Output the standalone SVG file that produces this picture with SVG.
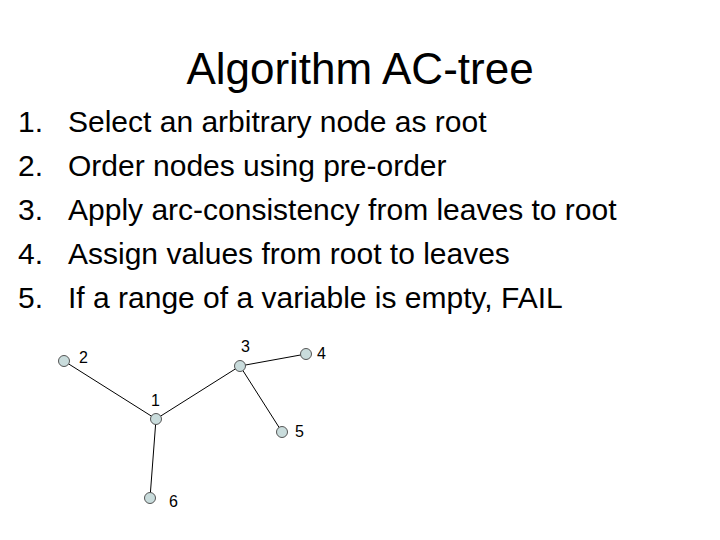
<svg xmlns="http://www.w3.org/2000/svg" width="720" height="540" viewBox="0 0 720 540">
<style>
text{font-family:"Liberation Sans",Arial,sans-serif;fill:#000}
.t{font-size:44px}
.l{font-size:30px}
.n{font-size:16px}
circle{fill:#c9dcdc;stroke:#555;stroke-width:1}
line{stroke:#000;stroke-width:1}
</style>
<rect width="720" height="540" fill="#fff"/>
<text class="t" x="360" y="84" text-anchor="middle">Algorithm AC-tree</text>
<g class="l">
<text class="l" x="18" y="132">1.</text><text class="l" x="68" y="132">Select an arbitrary node as root</text>
<text class="l" x="18" y="176">2.</text><text class="l" x="68" y="176">Order nodes using pre-order</text>
<text class="l" x="18" y="220">3.</text><text class="l" x="68" y="220">Apply arc-consistency from leaves to root</text>
<text class="l" x="18" y="264">4.</text><text class="l" x="68" y="264">Assign values from root to leaves</text>
<text class="l" x="18" y="308">5.</text><text class="l" x="68" y="308">If a range of a variable is empty, FAIL</text>
</g>
<g id="connectors">
<line x1="64" y1="361" x2="156" y2="419"/>
<line x1="156" y1="419" x2="240" y2="366"/>
<line x1="240" y1="366" x2="306" y2="354"/>
<line x1="240" y1="366" x2="282" y2="432"/>
<line x1="156" y1="419" x2="150" y2="498"/>
</g>
<g id="n1"><circle cx="156" cy="419" r="5.5"/><text class="n" x="151" y="406">1</text></g>
<g id="n2"><circle cx="64" cy="361" r="5.5"/><text class="n" x="79" y="363">2</text></g>
<g id="n3"><circle cx="240" cy="366" r="5.5"/><text class="n" x="241" y="352">3</text></g>
<g id="n4"><circle cx="306" cy="354" r="5.5"/><text class="n" x="317" y="359">4</text></g>
<g id="n5"><circle cx="282" cy="432" r="5.5"/><text class="n" x="295" y="437">5</text></g>
<g id="n6"><circle cx="150" cy="498" r="5.5"/><text class="n" x="169" y="507">6</text></g>
</svg>
